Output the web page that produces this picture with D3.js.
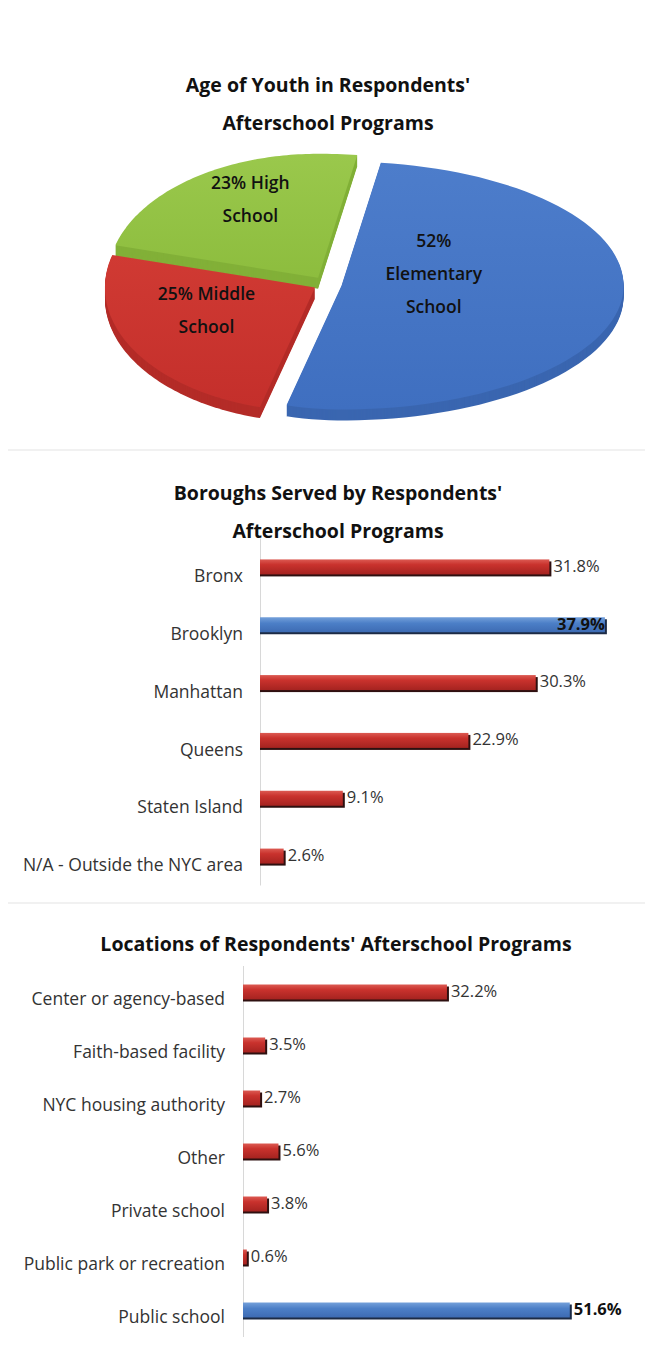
<!DOCTYPE html>
<html>
<head>
<meta charset="utf-8">
<script src="https://cdn.jsdelivr.net/npm/d3@7"></script>
<style>
  body { margin: 0; background: #fff; }
  svg { display: block; font-family: "Open Sans", sans-serif; }
</style>
</head>
<body>
<div id="chart"></div>
<script>
// pie: age of youth
const age_names = ['Elementary School', 'Middle School', 'High School']
const age_values = [52, 25, 23]
const age_words_per_line = [[1, 1, 1], [2, 1], [2, 1]]

// bars: boroughs served
const borough_names = ['Bronx', 'Brooklyn', 'Manhattan', 'Queens', 'Staten Island', 'N/A - Outside the NYC area']
const borough_values = [31.8, 37.9, 30.3, 22.9, 9.1, 2.6]

// bars: locations
const location_names = ['Center or agency-based', 'Faith-based facility', 'NYC housing authority', 'Other',
  'Private school', 'Public park or recreation', 'Public school']
const location_values = [32.2, 3.5, 2.7, 5.6, 3.8, 0.6, 51.6]

const W = 653
const H = 1356

const svg = d3.select('#chart').append('svg')
  .attr('width', W)
  .attr('height', H)

const defs = svg.append('defs')
const addGradient = (id, stops) => {
  const g = defs.append('linearGradient').attr('id', id)
    .attr('x1', 0).attr('y1', 0).attr('x2', 0).attr('y2', 1)
  stops.forEach(s => g.append('stop').attr('offset', s[0]).attr('stop-color', s[1]))
}
addGradient('bar-red', [['0%', '#dc5a52'], ['35%', '#c9322d'], ['100%', '#a52320']])
addGradient('bar-blue', [['0%', '#74a0da'], ['40%', '#4c7fc7'], ['100%', '#3d6bb3']])
addGradient('pie-blue', [['0%', '#4d7dcb'], ['100%', '#3f6fc0']])
addGradient('pie-red', [['0%', '#d03a33'], ['100%', '#c42f2b']])
addGradient('pie-green', [['0%', '#9ac84c'], ['100%', '#8dbd3e']])

// faint section separators
svg.selectAll('line.sep').data([450, 903]).enter().append('line')
  .attr('x1', 8).attr('x2', 645)
  .attr('y1', d => d).attr('y2', d => d)
  .attr('stroke', '#ececec')
  .attr('stroke-width', 1.5)

const title = (lines, cx, y0, dy) => {
  lines.forEach((t, i) => {
    svg.append('text')
      .attr('x', cx)
      .attr('y', y0 + i * dy)
      .attr('text-anchor', 'middle')
      .attr('font-size', 19.5)
      .attr('font-weight', 700)
      .attr('fill', '#111')
      .text(t)
  })
}

// ---------- 3D pie ----------
title(["Age of Youth in Respondents'", 'Afterschool Programs'], 328, 92, 38)

const PIE_CX = 325
const PIE_CY = 284
const RX_LEFT = 210
const RX_RIGHT = 282
const RY = 124
const DEPTH = 11
const START = 8 * Math.PI / 180

const top_fill = ['url(#pie-blue)', 'url(#pie-red)', 'url(#pie-green)']
const side_fill = ['#3a66b0', '#b42c28', '#82b038']
const explode = [0.06, 0.055, 0.06]
// label anchor (degrees, fraction of radius) inside each slice
const label_spot = [[74, 0.34], [250, 0.55], [333, 0.71]]

// a tilted ellipse, the near right side a bit wider (perspective)
const proj = (a, r) => {
  const s = Math.sin(a)
  return [r * s * (s > 0 ? RX_RIGHT : RX_LEFT), -r * Math.cos(a) * RY]
}

const pie = d3.pie().sort(null).startAngle(START).endAngle(START + 2 * Math.PI)
const slices = pie(age_values)

const slicePath = (d, dy) => {
  const pts = [[0, dy]]
  const n = 80
  for (let i = 0; i <= n; i++) {
    const a = d.startAngle + (d.endAngle - d.startAngle) * i / n
    const p = proj(a, 1)
    pts.push([p[0], p[1] + dy])
  }
  return d3.line()(pts) + 'Z'
}

const pie_g = svg.append('g').attr('transform', `translate(${PIE_CX},${PIE_CY})`)

// back slice first
const draw_order = [2, 1, 0]
draw_order.forEach(i => {
  const d = slices[i]
  const mid = (d.startAngle + d.endAngle) / 2
  const off = proj(mid, explode[i])
  const g = pie_g.append('g').attr('transform', `translate(${off[0]},${off[1]})`)
  for (let k = DEPTH; k >= 1; k--) {
    g.append('path').attr('d', slicePath(d, k)).attr('fill', side_fill[i])
  }
  g.append('path').attr('d', slicePath(d, 0)).attr('fill', top_fill[i])

  const words = (d.value + '% ' + age_names[i]).split(' ')
  const lines = []
  let w = 0
  age_words_per_line[i].forEach(c => { lines.push(words.slice(w, w + c).join(' ')); w += c })
  const spot = proj(label_spot[i][0] * Math.PI / 180, label_spot[i][1])
  const lh = 33
  const txt = g.append('text')
    .attr('text-anchor', 'middle')
    .attr('font-size', 17.5)
    .attr('font-weight', 600)
    .attr('fill', '#111')
  lines.forEach((t, j) => {
    txt.append('tspan')
      .attr('x', spot[0])
      .attr('y', spot[1] + (j - (lines.length - 1) / 2) * lh)
      .attr('dy', '0.35em')
      .text(t)
  })
})

// ---------- horizontal bars ----------
const drawBars = (names, values, opt) => {
  const x = d3.scaleLinear().domain([0, opt.max]).range(opt.xr)
  const y = d3.scaleBand().domain(names).range(opt.yr).padding(0)
  const bh = 15
  const top_value = d3.max(values)
  const g = svg.append('g')

  const axis = g.append('g')
    .attr('transform', `translate(${opt.xr[0]},0)`)
    .call(d3.axisLeft(y).tickSize(0).tickPadding(opt.pad))
  axis.select('.domain').attr('stroke', '#d8d8d8').attr('stroke-width', 1)
  axis.selectAll('text')
    .attr('font-family', '"Open Sans", sans-serif')
    .attr('font-size', 17.5)
    .attr('fill', '#333')
    .attr('y', opt.label_dy)

  const rows = names.map((n, i) => ({ name: n, value: values[i], hi: values[i] === top_value }))

  g.selectAll('rect.shadow').data(rows).enter().append('rect')
    .attr('x', x(0))
    .attr('y', d => y(d.name) + y.bandwidth() / 2 - bh / 2 + 2)
    .attr('width', d => x(d.value) - x(0) + 2)
    .attr('height', bh)
    .attr('fill', d => d.hi ? '#1c2b45' : '#2e1010')

  g.selectAll('rect.bar').data(rows).enter().append('rect')
    .attr('x', x(0))
    .attr('y', d => y(d.name) + y.bandwidth() / 2 - bh / 2)
    .attr('width', d => x(d.value) - x(0))
    .attr('height', bh)
    .attr('fill', d => d.hi ? 'url(#bar-blue)' : 'url(#bar-red)')

  g.selectAll('text.val').data(rows).enter().append('text')
    .attr('x', d => {
      const end = x(d.value)
      return end + 52 > opt.edge ? end : end + 4
    })
    .attr('text-anchor', d => x(d.value) + 52 > opt.edge ? 'end' : 'start')
    .attr('y', d => y(d.name) + y.bandwidth() / 2 - 1)
    .attr('dy', '0.35em')
    .attr('font-size', 16.5)
    .attr('font-weight', d => d.hi ? 700 : 400)
    .attr('fill', d => d.hi ? '#111' : '#333')
    .text(d => d.value.toFixed(1) + '%')
}

title(["Boroughs Served by Respondents'", 'Afterschool Programs'], 338, 500, 38)
drawBars(borough_names, borough_values, {
  max: 40, xr: [260, 624], yr: [538, 885], pad: 17, label_dy: 9.5, edge: 640
})

title(["Locations of Respondents' Afterschool Programs"], 336, 951, 0)
drawBars(location_names, location_values, {
  max: 60, xr: [243, 623], yr: [965.5, 1336.5], pad: 18, label_dy: 7.5, edge: 640
})
</script>
</body>
</html>
